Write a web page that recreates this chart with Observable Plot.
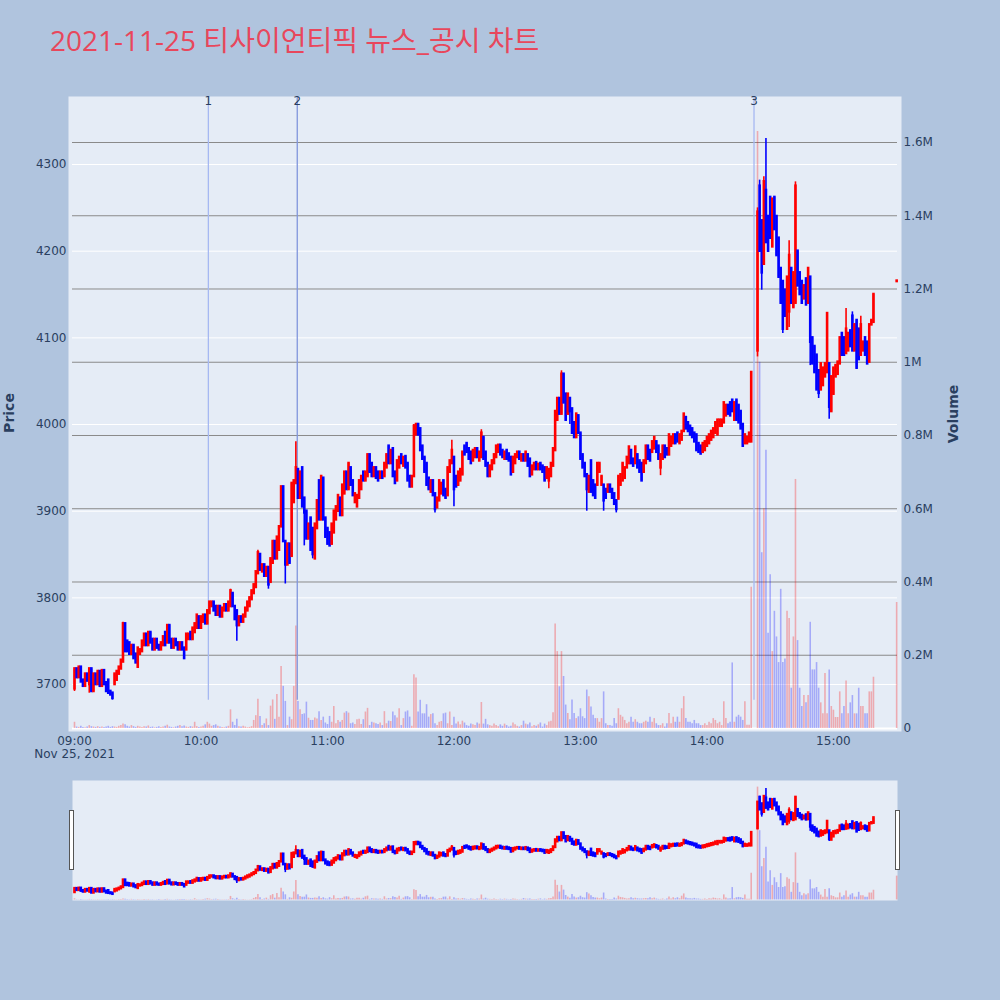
<!DOCTYPE html>
<html>
<head>
<meta charset="utf-8">
<script src="https://cdn.jsdelivr.net/npm/d3@7"></script>
<script src="https://cdn.jsdelivr.net/npm/@observablehq/plot@0.6"></script>
<style>
  html,body{margin:0;padding:0;background:#b0c4de;}
  #chart{position:relative;width:1000px;height:1000px;background:#b0c4de;overflow:hidden;}
  .handle{position:absolute;width:3px;height:58px;background:#fff;border:1px solid #555;top:810px;z-index:5;}
</style>
</head>
<body>
<div id="chart">
  <div class="handle" style="left:69px"></div>
  <div class="handle" style="left:895px"></div>
</div>
<script>
// ---------------- data (1-minute candles from 09:00, prices in KRW, volume in millions) ----------------
const chartTitle = "2021-11-25 티사이언티픽 뉴스_공시 차트";
const firstMinute = "09:00";
const opens = [
 3695,3718,3708,3720,3705,3698,3712,3700,3718,3692,
 3712,3700,3715,3698,3716,3702,3705,3692,3690,3700,
 3705,3712,3718,3726,3770,3750,3748,3735,3745,3735,
 3720,3735,3738,3745,3758,3745,3760,3752,3740,3752,
 3745,3740,3745,3760,3748,3768,3752,3742,3752,3748,
 3740,3748,3742,3740,3752,3760,3752,3760,3765,3778,
 3765,3772,3780,3770,3782,3790,3795,3790,3780,3790,
 3778,3785,3792,3785,3790,3805,3790,3785,3768,3778,
 3772,3778,3785,3790,3798,3805,3812,3828,3850,3830,
 3838,3825,3835,3818,3840,3865,3845,3855,3882,3928,
 3865,3838,3862,3848,3910,3932,3948,3915,3950,3915,
 3900,3868,3892,3880,3845,3880,3935,3890,3938,3892,
 3880,3875,3862,3875,3890,3900,3915,3895,3920,3945,
 3925,3950,3935,3910,3905,3915,3925,3945,3935,3940,
 3965,3955,3940,3950,3945,3938,3945,3940,3950,3975,
 3955,3972,3945,3935,3950,3965,3952,3963,3955,3940,
 3928,3940,3988,4000,3995,3975,3962,3955,3938,3922,
 3935,3920,3904,3912,3920,3935,3925,3918,3945,3955,
 3962,3940,3930,3935,3942,3975,3978,3972,3968,3958,
 3962,3972,3958,3962,3985,3968,3955,3940,3948,3955,
 3962,3968,3976,3970,3960,3970,3966,3962,3945,3955,
 3962,3968,3958,3965,3958,3965,3960,3942,3948,3956,
 3948,3955,3952,3950,3938,3935,3940,3952,3970,4005,
 4030,4012,4058,4035,4012,4030,4018,4002,3985,4010,
 3990,3965,3955,3942,3922,3958,3935,3930,3930,3945,
 3930,3930,3925,3922,3930,3925,3920,3912,3914,3930,
 3935,3938,3950,3955,3970,3960,3955,3965,3958,3955,
 3945,3955,3975,3970,3968,3972,3980,3975,3950,3960,
 3975,3972,3965,3975,3978,3988,3990,3978,3982,3992,
 4008,4002,3998,3995,3990,3988,3978,3975,3968,3970,
 3975,3978,3982,3985,3990,3988,3998,3998,4002,4010,
 4022,4025,4028,4005,4028,4022,4015,4000,3978,3978,
 3980,3980,null,null,4085,4275,4235,4185,4270,4240,
 4262,4205,4262,4240,4215,4180,4165,4155,4110,4130,
 4180,4135,4140,4200,4175,4165,4145,4168,4140,4170,
 4100,4090,4080,4062,4040,4045,4055,4060,4070,4015,
 4035,4055,4058,4070,4105,4100,4082,4085,4108,4125,
 4085,4120,4110,4080,4085,4100,4095,4072,4115,4118
];
const closes = [
 3718,3708,3720,3703,3698,3712,3704,3718,3692,3712,
 3700,3715,3698,3716,3700,3692,3690,3688,3684,3712,
 3715,3720,3728,3770,3738,3738,3735,3745,3730,3725,
 3742,3740,3750,3758,3745,3760,3748,3740,3752,3742,
 3740,3748,3755,3745,3768,3748,3742,3752,3745,3740,
 3748,3740,3730,3758,3758,3752,3765,3770,3780,3765,
 3778,3780,3770,3785,3795,3795,3785,3780,3790,3778,
 3788,3792,3785,3795,3808,3790,3775,3768,3778,3772,
 3780,3788,3795,3800,3808,3815,3830,3852,3832,3838,
 3825,3835,3815,3845,3865,3845,3870,3882,3928,3865,
 3838,3862,3840,3932,3935,3950,3915,3945,3905,3898,
 3868,3885,3855,3850,3885,3912,3890,3940,3890,3870,
 3862,3860,3885,3900,3905,3918,3895,3930,3945,3925,
 3955,3930,3918,3920,3918,3935,3940,3935,3945,3965,
 3945,3940,3950,3938,3935,3945,3938,3955,3965,3955,
 3970,3940,3932,3958,3962,3955,3962,3950,3935,3928,
 3940,3998,4000,3988,3970,3960,3945,3930,3925,3935,
 3918,3902,3915,3935,3932,3918,3915,3950,3958,3970,
 3925,3928,3945,3948,3968,3965,3968,3960,3955,3970,
 3972,3962,3968,3990,3960,3952,3940,3952,3958,3965,
 3975,3976,3965,3962,3968,3960,3958,3942,3962,3965,
 3968,3960,3965,3958,3968,3952,3940,3952,3955,3948,
 3954,3948,3945,3935,3950,3948,3955,3972,4015,4030,
 4012,4058,4025,4005,4035,4015,3990,3985,4012,3990,
 3960,3950,3940,3925,3940,3922,3918,3915,3955,3955,
 3940,3912,3915,3930,3922,3915,3908,3902,3940,3942,
 3955,3950,3962,3974,3955,3952,3974,3950,3945,3935,
 3958,3975,3960,3958,3980,3985,3968,3960,3965,3975,
 3962,3965,3988,3985,3988,3978,3980,3988,3992,4012,
 3995,3992,3988,3985,3980,3970,3968,3966,3978,3980,
 3985,3988,3992,3995,4002,4005,4005,4005,4025,4022,
 4012,4010,4015,4025,4005,4002,3995,3975,3988,3985,
 3990,4060,null,null,4245,4200,4175,4280,4210,4200,
 4215,4260,4225,4195,4170,4140,4110,4125,4170,4195,
 4140,4175,4275,4160,4150,4140,4160,4138,4180,4095,
 4070,4060,4040,4036,4070,4065,4070,4128,4020,4055,
 4065,4068,4072,4100,4080,4080,4110,4105,4090,4085,
 4115,4065,4075,4115,4095,4080,4070,4115,4120,4150
];
const volumesM = [
 .017,.004,.003,.006,.003,.002,.004,.008,.005,.004,
 .003,.005,.003,.004,.003,.004,.006,.003,.005,.004,
 .003,.006,.008,.012,.010,.006,.004,.008,.005,.003,
 .006,.004,.003,.005,.004,.007,.003,.004,.002,.003,
 .005,.003,.004,.006,.009,.004,.003,.002,.004,.006,
 .008,.005,.007,.004,.003,.005,.004,.017,.005,.003,
 .004,.006,.010,.017,.012,.006,.008,.010,.006,.004,
 .003,.002,.004,.006,.051,.017,.008,.025,.005,.004,
 .006,.004,.002,.003,.005,.022,.035,.080,.033,.008,
 .013,.026,.008,.061,.078,.025,.093,.031,.169,.115,
 .074,.008,.031,.024,.115,.280,.074,.051,.038,.040,
 .072,.028,.022,.022,.029,.026,.046,.022,.031,.015,
 .011,.033,.017,.060,.013,.022,.017,.022,.042,.046,
 .042,.013,.015,.011,.024,.025,.011,.024,.045,.055,
 .008,.017,.015,.013,.011,.015,.008,.046,.013,.020,
 .019,.045,.035,.029,.054,.008,.027,.045,.048,.031,
 .006,.147,.138,.045,.077,.040,.040,.065,.031,.038,
 .040,.013,.008,.017,.019,.040,.042,.013,.045,.008,
 .031,.012,.018,.010,.020,.015,.008,.006,.012,.010,
 .008,.015,.012,.071,.012,.025,.010,.008,.006,.012,
 .008,.005,.010,.006,.012,.008,.004,.006,.015,.010,
 .006,.004,.008,.020,.012,.010,.015,.005,.008,.006,
 .010,.015,.004,.012,.008,.018,.020,.043,.285,.210,
 .114,.210,.142,.064,.041,.024,.078,.041,.027,.032,
 .054,.032,.027,.105,.087,.059,.036,.027,.027,.017,
 .027,.100,.013,.008,.008,.006,.027,.013,.054,.036,
 .031,.022,.013,.017,.031,.017,.024,.017,.013,.013,
 .017,.020,.017,.031,.017,.027,.013,.008,.008,.013,
 .004,.013,.041,.013,.031,.017,.031,.017,.054,.087,
 .027,.017,.017,.013,.022,.013,.013,.008,.008,.013,
 .008,.017,.013,.027,.022,.013,.017,.008,.073,.027,
 .013,.017,.179,.017,.031,.036,.031,.022,.073,.009,
 .009,.386,null,null,1.63,1.00,.48,.60,.76,.26,
 .42,.21,.32,.25,.18,.38,.18,.19,.32,.30,
 .11,.25,.68,.24,.11,.06,.09,.07,.09,.29,
 .16,.16,.18,.11,.07,.04,.15,.04,.16,.06,
 .05,.03,.03,.10,.04,.06,.13,.04,.07,.09,
 .04,.04,.11,.06,.06,.04,.04,.10,.10,.14
];
// wick extremes beyond the candle bodies ("HH:MM", price)
const wickHighs = [["09:23",3772],["10:14",3810],["10:27",3855],["10:45",3980],["11:41",4000],["11:59",3982],
  ["12:13",3994],["12:51",4062],["14:24",4250],["14:25",4282],["14:27",4286],["14:28",4330],["14:39",4212],
  ["14:42",4280],["15:06",4134],["15:09",4130],["15:13",4125]];
const wickLows = [["09:00",3692],["09:07",3690],["09:18",3682],["10:17",3750],["10:32",3810],["10:40",3816],
  ["10:49",3860],["10:53",3845],["11:51",3898],["12:00",3905],["12:45",3926],["12:55",4000],["13:03",3900],
  ["13:11",3900],["13:17",3898],["13:38",3941],["14:24",4078],["14:26",4155],["14:36",4105],["14:39",4112],
  ["14:49",4068],["14:53",4030],["14:58",4006]];
// closing single-price auction
const auctionTime = "15:30";
const auctionOpen = 4165, auctionClose = 4165.5, auctionVolumeM = 0.344;
// news / disclosure markers
const eventTimes = ["10:03:30","10:45:40","14:22:20"];
const eventLabels = ["1","2","3"];
// axes
const timeTicks = ["09:00","10:00","11:00","12:00","13:00","14:00","15:00"];
const dateLabel = "Nov 25, 2021";
const priceTicks = [3700,3800,3900,4000,4100,4200,4300];
const volumeTicks = [0,0.2,0.4,0.6,0.8,1,1.2,1.4,1.6];
const volumeTickLabels = ["0","0.2M","0.4M","0.6M","0.8M","1M","1.2M","1.4M","1.6M"];

// ---------------- build ----------------
function at(hms){ const [h,m,s=0] = hms.split(":").map(Number); return new Date(2021,10,25,h,m,s); }
const t0 = at(firstMinute);
const fmtHM = d3.timeFormat("%H:%M");
const candles = [];
opens.forEach((o,i) => {
  if (o == null) return;
  const c = closes[i];
  candles.push({t: new Date(+t0 + i*60000), o, c, h: Math.max(o,c), l: Math.min(o,c), v: volumesM[i]});
});
candles.push({t: at(auctionTime), o: auctionOpen, c: auctionClose, h: Math.max(auctionOpen,auctionClose), l: Math.min(auctionOpen,auctionClose), v: auctionVolumeM});
const byKey = new Map(candles.map(d => [fmtHM(d.t), d]));
wickHighs.forEach(([k,v]) => { const d = byKey.get(k); if (d) d.h = Math.max(d.h, v); });
wickLows.forEach(([k,v]) => { const d = byKey.get(k); if (d) d.l = Math.min(d.l, v); });
candles.forEach(d => d.color = d.c > d.o ? "#ff0000" : "#0000ff");
const events = eventTimes.map((s,i) => ({t: at(s), label: eventLabels[i]}));
const dayLow = d3.min(candles, d => d.l);
const volLabel = new Map(volumeTicks.map((v,i) => [v, volumeTickLabels[i]]));

const xDomain = [at("08:59:03"), at("15:30:24")];
const priceDomain = [3645.8, 4378.5];
const volDomain = [-0.0082, 1.7256];
const BG = "#e5ecf6", INK = "#2a3f5f";
const styleBase = {background:"transparent", fontFamily:"'DejaVu Sans', Verdana, sans-serif", fontSize:"12px", color:INK, overflow:"visible"};
const mainBase = {width:1000, height:780, marginTop:96, marginBottom:49, marginLeft:72, marginRight:103, style:styleBase, color:{type:"identity"}};
const sliderBase = {width:1000, height:130, marginTop:5, marginBottom:5, marginLeft:72, marginRight:103, style:styleBase, color:{type:"identity"}};

const chart = document.getElementById("chart");
function place(svg, top, z){ svg.style.position="absolute"; svg.style.left="0px"; svg.style.top=top+"px"; svg.style.zIndex=z; chart.appendChild(svg); }

// layer A: background, price grid, price & time axes
place(Plot.plot({...mainBase,
  x:{type:"time", domain:xDomain},
  y:{domain:priceDomain},
  marks:[
    Plot.frame({fill:BG, stroke:"none", insetLeft:-4, insetRight:-4}),
    Plot.ruleY(priceTicks, {stroke:"#ffffff", strokeWidth:1}),
    Plot.axisY(priceTicks, {anchor:"left", tickSize:0, tickPadding:6, fill:INK, label:null, tickFormat: d => String(d)}),
    Plot.axisX(timeTicks.map(at), {anchor:"bottom", tickSize:0, tickPadding:5, fill:INK, label:null, tickFormat:fmtHM}),
    Plot.text([dateLabel], {x: () => t0, frameAnchor:"bottom", dy:26, fill:INK})
  ]}), 0, 1);

// layer B: volume grid, volume bars, volume axis
place(Plot.plot({...mainBase,
  x:{type:"time", domain:xDomain, axis:null},
  y:{domain:volDomain},
  marks:[
    Plot.ruleY(volumeTicks.filter(v => v > 0), {stroke:"#8a8a8a", strokeWidth:1}),
    Plot.ruleY([0], {stroke:"#ffffff", strokeWidth:2}),
    Plot.ruleX(candles, {x:"t", y1:0, y2:"v", stroke:"color", strokeOpacity:0.28, strokeWidth:1.6}),
    Plot.axisY(volumeTicks, {anchor:"right", tickSize:0, tickPadding:6, fill:INK, label:null, tickFormat: d => volLabel.get(d)})
  ]}), 0, 2);

// layer C: events and candlesticks
place(Plot.plot({...mainBase,
  x:{type:"time", domain:xDomain, axis:null},
  y:{domain:priceDomain, axis:null},
  marks:[
    Plot.ruleX(events, {x:"t", y1:dayLow, y2:priceDomain[1], stroke:(d,i) => i === 1 ? "#8096dc" : "#a6b8f2", strokeWidth:1.3}),
    Plot.ruleX(candles, {x:"t", y1:"l", y2:"h", stroke:"color", strokeWidth:1.6}),
    Plot.ruleX(candles, {x:"t", y1:"o", y2:"c", stroke:"color", strokeWidth:2.6, strokeLinecap:"square"}),
    Plot.text(events, {x:"t", text:"label", frameAnchor:"top", fill:INK})
  ]}), 0, 3);

// range slider: volume + candles in miniature
place(Plot.plot({...sliderBase,
  x:{type:"time", domain:xDomain, axis:null},
  y:{domain:volDomain, axis:null},
  marks:[
    Plot.frame({fill:BG, stroke:"none"}),
    Plot.ruleX(candles, {x:"t", y1:0, y2:"v", stroke:"color", strokeOpacity:0.28, strokeWidth:1.6})
  ]}), 775, 1);
place(Plot.plot({...sliderBase,
  x:{type:"time", domain:xDomain, axis:null},
  y:{domain:priceDomain, axis:null},
  marks:[
    Plot.ruleX(candles, {x:"t", y1:"l", y2:"h", stroke:"color", strokeWidth:1.6}),
    Plot.ruleX(candles, {x:"t", y1:"o", y2:"c", stroke:"color", strokeWidth:2.6, strokeLinecap:"square"})
  ]}), 775, 2);

// titles
const ann = d3.create("svg").attr("width",1000).attr("height",1000)
  .style("position","absolute").style("left","0px").style("top","0px").style("z-index",4).style("pointer-events","none");
ann.append("text").attr("x",50).attr("y",51)
  .attr("font-family","'Open Sans','Noto Sans CJK KR',sans-serif").attr("font-size",28).attr("fill","#e8475c")
  .text(chartTitle);
ann.append("text").attr("transform","translate(14,413) rotate(-90)").attr("text-anchor","middle")
  .attr("font-family","'DejaVu Sans',sans-serif").attr("font-size",14).attr("font-weight","bold").attr("fill",INK).text("Price");
ann.append("text").attr("transform","translate(958,414) rotate(-90)").attr("text-anchor","middle")
  .attr("font-family","'DejaVu Sans',sans-serif").attr("font-size",14).attr("font-weight","bold").attr("fill",INK).text("Volume");
chart.appendChild(ann.node());
</script>
</body>
</html>
